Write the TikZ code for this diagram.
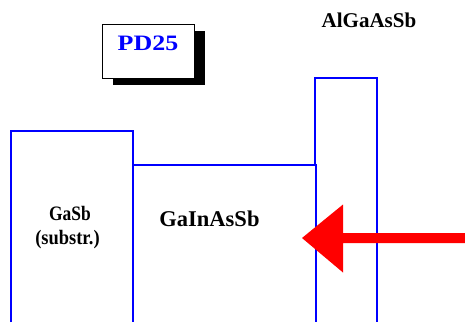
\documentclass[tikz,border=0pt]{standalone}
\usepackage{fontspec}
\setmainfont{Liberation Serif}
\begin{document}
\begin{tikzpicture}[x=1pt,y=-1pt,
  layer/.style={draw=blue, line width=2pt},
  lbl/.style={anchor=base, inner sep=0pt}]
\useasboundingbox (0,0) rectangle (465,322);
% PD25 tag with shadow
\fill[black] (113,31) rectangle (205,85);
\draw[fill=white, line width=1pt] (102,24) rectangle (194,78);
\node[lbl, text=blue, font=\bfseries\fontsize{22}{26}\selectfont] (pd) at (148,50.7) {\scalebox{1.18}[1]{PD25}};
% layers
\draw[layer] (11,322) -- (11,131) -- (133,131) -- (133,322);
\draw[layer] (133,165) -- (316,165) -- (316,322);
\draw[layer] (314.5,165) -- (314.5,78) -- (377,78) -- (377,322);
% labels
\node[lbl, font=\bfseries\fontsize{21}{25}\selectfont] (al) at (369,27.7) {AlGaAsSb};
\node[lbl, font=\bfseries\fontsize{22.5}{27}\selectfont] (gi) at (209.5,226.7) {GaInAsSb};
\node[lbl, font=\bfseries\fontsize{20.5}{24}\selectfont] (gs) at (70,220.7) {\scalebox{0.85}[1]{GaSb}};
\node[lbl, font=\bfseries\fontsize{20.5}{24}\selectfont] (sub) at (67.5,244.3) {\scalebox{0.9}[1]{(substr.)}};
% arrow
\coordinate (tip) at (302,238);
\fill[red] (465,233) -- (343,233) -- (343,204.5) -- (tip) -- (343,272.5) -- (343,243) -- (465,243) -- cycle;
\end{tikzpicture}
\end{document}
